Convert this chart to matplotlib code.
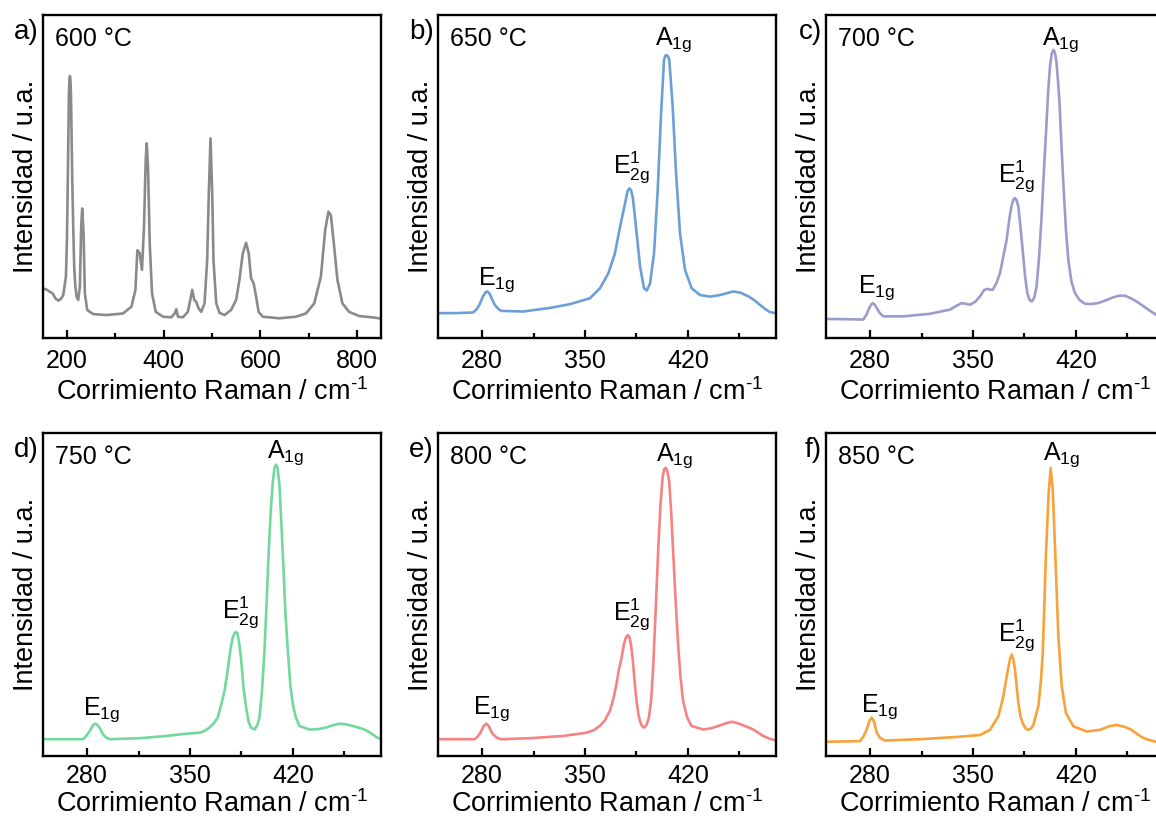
import numpy as np
import matplotlib.pyplot as plt
from matplotlib.ticker import MultipleLocator

plt.rcParams['font.family'] = ['Liberation Sans', 'DejaVu Sans']
plt.rcParams['mathtext.fontset'] = 'custom'
plt.rcParams['mathtext.rm'] = 'Liberation Sans'
plt.rcParams['mathtext.it'] = 'Liberation Sans'

# --- datos (intensidad normalizada, u.a.) ---
x_600 = [150, 157, 164.5, 170, 176, 181.6, 187, 192, 197.5, 199.5, 201, 202.5, 203.7, 204.8, 205.8,
         206.8, 207.8, 209, 210.5, 212.5, 214.6, 217, 219.5, 222.9, 226.4, 229.1, 231.2, 234, 236.7,
         241.5, 253.9, 281.5, 315.8, 333.2, 341.4, 345.5, 350.3, 355, 359.2, 362.7, 364.8, 367.5, 371,
         375.8, 383.4, 398.4, 415.8, 422.6, 426.1, 429.4, 439.7, 450, 455, 459.1, 463.2, 467.3, 472.1,
         477.7, 484.5, 490, 493.4, 496.9, 500.4, 503.1, 508.7, 515.5, 525.8, 539.6, 550, 556.8, 563.7,
         570.6, 576, 580.9, 586.3, 591.3, 596.6, 604.9, 639.4, 673.9, 694.5, 711.7, 725.5, 734.4, 741.2,
         746.2, 753, 759.8, 770.1, 783.9, 804.6, 832, 850]
y_600 = [0.154, 0.150, 0.143, 0.138, 0.122, 0.116, 0.121, 0.133, 0.190, 0.300, 0.448, 0.620, 0.758,
         0.800, 0.811, 0.800, 0.758, 0.650, 0.499, 0.350, 0.221, 0.160, 0.128, 0.118, 0.159, 0.345,
         0.401, 0.324, 0.138, 0.087, 0.074, 0.071, 0.076, 0.097, 0.149, 0.272, 0.262, 0.211, 0.345,
         0.551, 0.603, 0.530, 0.293, 0.138, 0.081, 0.066, 0.064, 0.076, 0.089, 0.066, 0.064, 0.081,
         0.118, 0.149, 0.118, 0.112, 0.092, 0.081, 0.107, 0.241, 0.448, 0.618, 0.448, 0.241, 0.108,
         0.078, 0.071, 0.087, 0.118, 0.180, 0.262, 0.295, 0.262, 0.185, 0.169, 0.128, 0.081, 0.066,
         0.061, 0.066, 0.076, 0.107, 0.190, 0.334, 0.391, 0.380, 0.283, 0.180, 0.107, 0.081, 0.068,
         0.064, 0.060]

x_650 = [250, 262, 273.8, 276.5, 278.4, 280.5, 282.5, 283.6, 285, 286.8, 288.6, 291, 293.1, 307.9, 326,
         340, 353.4, 360.2, 365.9, 370.4, 373.9, 377.3, 379, 380.2, 381.3, 382.5, 384.7, 387.5, 390.2,
         392, 394.3, 397, 399.5, 401.8, 403.8, 404.7, 405.6, 406.5, 407.4, 409.7, 412, 414.7, 418.1,
         422.6, 428.3, 435.1, 441.9, 450.9, 456, 461.1, 465, 469, 472.5, 475.9, 480]
y_650 = [0.077, 0.077, 0.079, 0.090, 0.105, 0.128, 0.142, 0.144, 0.138, 0.120, 0.103, 0.090, 0.084,
         0.082, 0.093, 0.105, 0.123, 0.154, 0.200, 0.262, 0.345, 0.417, 0.455, 0.463, 0.458, 0.437,
         0.345, 0.221, 0.154, 0.147, 0.169, 0.262, 0.458, 0.696, 0.861, 0.874, 0.876, 0.872, 0.861,
         0.716, 0.510, 0.324, 0.211, 0.154, 0.133, 0.128, 0.133, 0.144, 0.140, 0.129, 0.118, 0.103,
         0.090, 0.080, 0.077]

x_700 = [250, 265, 275.4, 277.5, 279.3, 281, 281.8, 283, 284.5, 286.5, 289, 302.6, 320.8, 334.4, 339,
         342.3, 345, 348, 351.5, 354.8, 357.5, 359.3, 361.5, 363.4, 366, 368.4, 371, 372.9, 374.8,
         376.3, 377.7, 378.6, 379.6, 380.9, 382.4, 383.8, 385.5, 387, 388.5, 390, 391.7, 393.3, 395,
         396.7, 398.2, 399.7, 401, 402.4, 403.6, 404.7, 405.7, 406.7, 407.8, 408.8, 410.2, 411.5,
         413.2, 414.9, 417, 419.4, 422.5, 426.2, 430, 435.3, 440, 445.5, 449.5, 453.4, 457.5, 461.4,
         465.5, 469.3, 474.5, 480]
y_700 = [0.059, 0.058, 0.057, 0.072, 0.092, 0.105, 0.108, 0.104, 0.093, 0.078, 0.067, 0.067, 0.075,
         0.088, 0.100, 0.108, 0.106, 0.103, 0.112, 0.129, 0.148, 0.152, 0.150, 0.149, 0.170, 0.201,
         0.260, 0.304, 0.370, 0.410, 0.430, 0.433, 0.428, 0.407, 0.340, 0.273, 0.190, 0.139, 0.118,
         0.113, 0.125, 0.160, 0.250, 0.376, 0.510, 0.634, 0.750, 0.840, 0.880, 0.892, 0.885, 0.860,
         0.800, 0.737, 0.600, 0.479, 0.340, 0.242, 0.175, 0.139, 0.118, 0.106, 0.105, 0.108, 0.116,
         0.126, 0.131, 0.131, 0.123, 0.113, 0.100, 0.088, 0.072, 0.062]

x_750 = [250, 265, 277.2, 279.5, 281.7, 284, 285.3, 286.5, 288.5, 290.8, 293, 295.3, 315.7, 333.8,
         347.4, 356.5, 360, 363.3, 366, 368.9, 371.3, 373.5, 375.5, 377.4, 379, 380.3, 381.3, 382.3,
         383.5, 384.8, 386.5, 388.2, 390, 391.5, 393.9, 395.8, 397.3, 399, 400.7, 402.2, 403.6, 405,
         406.4, 407.6, 408.6, 409.6, 410.9, 412.2, 413.6, 415, 416.6, 418.3, 420, 422, 424.5, 431.3,
         437, 442.6, 447, 451.7, 456, 460.7, 464.5, 468.7, 471.5, 474.3, 477, 480]
y_750 = [0.052, 0.052, 0.052, 0.062, 0.077, 0.095, 0.100, 0.098, 0.088, 0.067, 0.057, 0.052, 0.055,
         0.062, 0.069, 0.072, 0.078, 0.088, 0.100, 0.119, 0.160, 0.201, 0.260, 0.325, 0.365, 0.380,
         0.384, 0.380, 0.350, 0.300, 0.210, 0.150, 0.105, 0.088, 0.082, 0.095, 0.119, 0.200, 0.325,
         0.480, 0.634, 0.760, 0.850, 0.893, 0.902, 0.892, 0.840, 0.720, 0.582, 0.440, 0.325, 0.220,
         0.160, 0.120, 0.093, 0.082, 0.083, 0.088, 0.095, 0.100, 0.098, 0.093, 0.088, 0.082, 0.075,
         0.067, 0.058, 0.052]

x_800 = [250, 265, 275, 277, 278.8, 281, 282.9, 284.5, 285.8, 287.5, 290, 293.1, 312.4, 335.1, 351,
         356, 360.1, 363.5, 366.9, 369.5, 371.4, 373.2, 374.9, 376.5, 377.8, 379.1, 380.3, 381.3,
         382.5, 384, 385.1, 386.5, 387.8, 389, 390.3, 391.8, 393.5, 395, 396.4, 398, 399.8, 401.3,
         402.8, 403.9, 405, 406.1, 407.3, 408.6, 410, 411.7, 413.4, 415, 416.8, 419.5, 422.5, 430.5,
         436, 440.7, 445, 449.8, 453.5, 457.7, 461, 464.5, 468, 471.3, 475.5, 480]
y_800 = [0.052, 0.052, 0.052, 0.060, 0.072, 0.092, 0.100, 0.093, 0.080, 0.067, 0.057, 0.052, 0.055,
         0.062, 0.072, 0.080, 0.093, 0.110, 0.139, 0.180, 0.222, 0.270, 0.304, 0.345, 0.366, 0.374,
         0.368, 0.345, 0.300, 0.220, 0.170, 0.125, 0.103, 0.092, 0.088, 0.095, 0.119, 0.170, 0.273,
         0.440, 0.634, 0.770, 0.861, 0.888, 0.892, 0.882, 0.851, 0.760, 0.634, 0.480, 0.345, 0.245,
         0.170, 0.120, 0.093, 0.082, 0.086, 0.093, 0.100, 0.106, 0.102, 0.095, 0.089, 0.082, 0.072,
         0.062, 0.054, 0.048]

x_850 = [250, 262, 273.1, 275.5, 277.7, 279.5, 281.1, 282.6, 284.5, 287, 290.1, 314, 338.9, 354.8,
         361.6, 367.3, 370.7, 373.4, 375.2, 376.4, 377.5, 378.6, 380.9, 382.5, 384.3, 386, 387.7,
         389.5, 391.1, 394.5, 396.2, 397.5, 399.7, 401.5, 402.9, 404.3, 406, 408.1, 410.4, 413.3,
         418.3, 427.4, 436.5, 443.3, 448, 453.4, 457.5, 461.4, 465, 468.2, 474.5, 480]
y_850 = [0.044, 0.045, 0.046, 0.060, 0.082, 0.108, 0.119, 0.108, 0.072, 0.055, 0.048, 0.052, 0.059,
         0.065, 0.081, 0.123, 0.185, 0.257, 0.300, 0.314, 0.300, 0.267, 0.164, 0.120, 0.097, 0.085,
         0.081, 0.085, 0.097, 0.154, 0.230, 0.319, 0.628, 0.814, 0.892, 0.824, 0.628, 0.371, 0.216,
         0.133, 0.092, 0.076, 0.081, 0.093, 0.096, 0.090, 0.082, 0.069, 0.058, 0.052, 0.044, 0.041]

letters = ['a)', 'b)', 'c)', 'd)', 'e)', 'f)']
temps = ['600 °C', '650 °C', '700 °C', '750 °C', '800 °C', '850 °C']
colors = ['#8a8a8a', '#6b9fd6', '#9c9ccc', '#72d89c', '#f58383', '#f7a23a']
xs = [x_600, x_650, x_700, x_750, x_800, x_850]
ys = [y_600, y_650, y_700, y_750, y_800, y_850]

# posiciones de las etiquetas de modos (x, y) por panel: E1g, E2g^1, A1g
modes = ['E$_{1g}$', 'E$_{2g}^{1}$', 'A$_{1g}$']
mode_x = [None, [290, 382, 410], [284.5, 380, 409.7], [289.7, 384.8, 415.4],
          [286.3, 381.7, 411], [286.5, 380, 410.3]]
mode_y = [None, [0.135, 0.475, 0.88], [0.112, 0.445, 0.88], [0.098, 0.39, 0.895],
          [0.102, 0.385, 0.885], [0.108, 0.32, 0.89]]

W, H = 1156, 823
fig = plt.figure(figsize=(W / 100, H / 100), dpi=100)

lefts = [43, 438, 826]
tops = [15, 433]
aw, ah = 338, 323
tick_pad = [8, 6]
xlab_pad = [4, 1]

for i in range(6):
    r, c = divmod(i, 3)
    ax = fig.add_axes([lefts[c] / W, 1 - (tops[r] + ah) / H, aw / W, ah / H])
    ax.plot(xs[i], ys[i], color=colors[i], lw=1.9, solid_joinstyle='round')
    ax.set_ylim(0, 1)
    if i == 0:
        ax.set_xlim(150, 850)
        ax.xaxis.set_major_locator(MultipleLocator(200))
        ax.xaxis.set_minor_locator(MultipleLocator(100))
    else:
        ax.set_xlim(250, 480)
        ax.set_xticks([280, 350, 420])
        ax.set_xticks([315, 385, 455], minor=True)
    ax.set_yticks([])
    ax.tick_params(axis='x', which='major', direction='in', length=6, width=1.6,
                   labelsize=18, pad=tick_pad[r])
    ax.tick_params(axis='x', which='minor', direction='in', length=3.5, width=1.6)
    for s in ax.spines.values():
        s.set_linewidth(1.7)
    ax.set_xlabel(r'Corrimiento Raman / cm$^{\text{-}1}$', fontsize=19.5, labelpad=xlab_pad[r])
    ax.set_ylabel('Intensidad / u.a.', fontsize=19.5, labelpad=3)
    ax.text(0.035, 0.925, temps[i], transform=ax.transAxes, fontsize=18,
            ha='left', va='center')
    ax.text(-0.012, 0.947, letters[i], transform=ax.transAxes, fontsize=20,
            ha='right', va='center')
    if mode_x[i] is not None:
        for m, mx, my in zip(modes, mode_x[i], mode_y[i]):
            ax.text(mx, my, m, fontsize=18, ha='center', va='bottom')

fig.savefig('out.png', dpi=100)
